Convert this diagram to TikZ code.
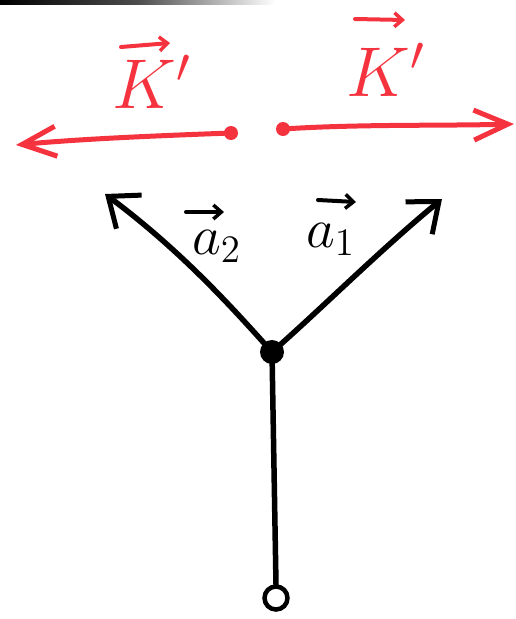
\documentclass[tikz,border=0pt]{standalone}
\usepackage{graphicx}
\usetikzlibrary{arrows.meta}
\definecolor{penred}{HTML}{F5333F}
\begin{document}
\begin{tikzpicture}[x=1pt,y=-1pt,
  redpen/.style={draw=penred,line width=5pt,line cap=round,line join=round},
  blackpen/.style={draw=black,line width=5.5pt,line cap=round,line join=round},
  redtip/.style={-{Straight Barb[length=34pt,width=30pt,line width=5pt]}},
  blacktip/.style={-{Straight Barb[length=26pt,width=42pt,line width=5pt]}},
  smalltip/.style={-{Straight Barb[length=8pt,width=14pt,line width=3.5pt]}},
  lbl/.style={inner sep=0pt,font=\huge},
  albl/.style={inner sep=0pt,font=\huge}]
\useasboundingbox (0,0) rectangle (516,619);
\shade[left color=black,right color=white,middle color=black!70] (0,0) rectangle (275,4);
% red vectors
\node[circle,fill=penred,inner sep=0pt,minimum size=14pt] (rl) at (231,133) {};
\node[circle,fill=penred,inner sep=0pt,minimum size=14pt] (rr) at (283,129) {};
\coordinate (lt) at (16,145);
\coordinate (rt) at (514,124);
\draw[redpen,redtip] (rl.center) .. controls (150,136) and (80,139) .. (lt);
\draw[redpen,redtip] (rr.center) .. controls (360,124) and (440,126) .. (rt);
\node[lbl,text=penred,anchor=base west] (kl) at (112,108) {\scalebox{3.4}{$K'$}};
\node[lbl,text=penred,anchor=base west] (kr) at (346,96) {\scalebox{3.4}{$K'$}};
\coordinate (kla) at (121,47);
\coordinate (klb) at (170,43);
\coordinate (kra) at (355,19);
\coordinate (krb) at (405,20);
\draw[redpen,line width=4pt,smalltip] (kla) -- (klb);
\draw[redpen,line width=4pt,smalltip] (kra) -- (krb);
% black vectors
\node[circle,fill=black,inner sep=0pt,minimum size=24pt] (c) at (272,352) {};
\coordinate (a2t) at (105,194);
\coordinate (a1t) at (442,199);
\draw[blackpen,blacktip] (c.center) .. controls (230,305) and (180,250) .. (a2t);
\draw[blackpen,blacktip] (c.center) .. controls (320,310) and (380,250) .. (a1t);
\node[albl,anchor=base west] (a2) at (192,254) {\scalebox{2.7}{$a_2$}};
\node[albl,anchor=base west] (a1) at (306,247) {\scalebox{2.7}{$a_1$}};
\coordinate (a2a) at (186,212);
\coordinate (a2b) at (224,212);
\coordinate (a1a) at (318,200);
\coordinate (a1b) at (356,202);
\draw[blackpen,line width=4pt,smalltip] (a2a) -- (a2b);
\draw[blackpen,line width=4pt,smalltip] (a1a) -- (a1b);
\node[circle,draw=black,line width=4.5pt,inner sep=0pt,minimum size=23pt] (b) at (276,598) {};
\draw[blackpen] (c.center) -- (b.north);
\end{tikzpicture}
\end{document}
